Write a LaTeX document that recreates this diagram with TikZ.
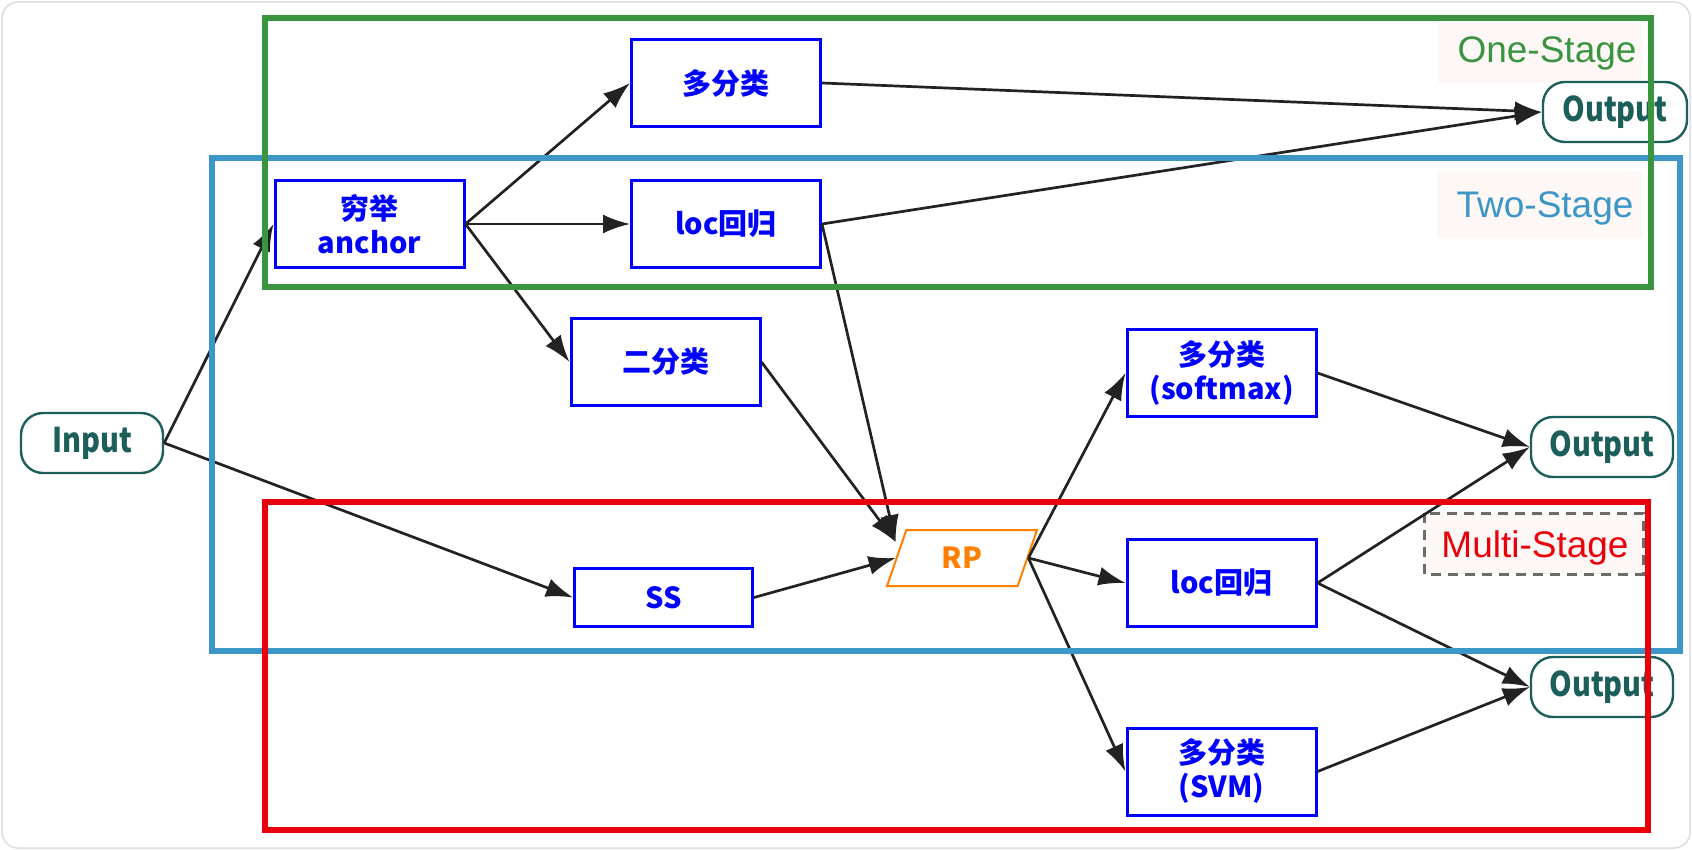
\documentclass[tikz,border=0pt]{standalone}
\usepackage{fontspec}
\setmainfont{Liberation Sans}
\newfontfamily\nodefont{Noto Sans CJK SC}
\newfontfamily\iofont{Noto Sans CJK SC}[FakeStretch=0.85]
\usetikzlibrary{arrows.meta,shapes.geometric}

\definecolor{boxblue}{HTML}{0000FF}
\definecolor{iodark}{HTML}{1B5E5A}
\definecolor{rporange}{HTML}{FF7F00}
\definecolor{grpgreen}{HTML}{3A9440}
\definecolor{grpblue}{HTML}{3C96C8}
\definecolor{grpred}{HTML}{E8000B}
\definecolor{arrowc}{HTML}{222222}
\definecolor{labelbg}{HTML}{FDF7F6}
\definecolor{framegray}{HTML}{DDDDDD}
\definecolor{dashgray}{HTML}{6B6B6B}

\tikzset{
  proc/.style={draw=boxblue, line width=1.5pt, fill=white, minimum width=94.5pt,
    minimum height=43.5pt, inner sep=0pt, align=center, text=boxblue,
    font=\nodefont\bfseries\fontsize{14.5}{17}\selectfont},
  io/.style={draw=iodark, line width=1.2pt, rounded corners=11pt, fill=white,
    minimum width=71pt, minimum height=30pt, inner sep=0pt, text=iodark,
    font=\iofont\bfseries\fontsize{17}{19}\selectfont},
  rpbox/.style={trapezium, trapezium left angle=72, trapezium right angle=108,
    trapezium stretches=true, draw=rporange, line width=1pt, fill=white,
    minimum width=75pt, minimum height=28pt, inner sep=0pt, text=rporange,
    font=\nodefont\bfseries\fontsize{14.5}{17}\selectfont},
  link/.style={draw=arrowc, line width=1.35pt, -{Latex[length=13.5pt,width=9.5pt]}},
  group/.style={line width=3pt},
  stagelabel/.style={anchor=base, inner sep=0pt, font=\fontsize{18.5}{20}\selectfont},
}

\begin{document}
\begin{tikzpicture}[x=0.5pt, y=-0.5pt]
  \useasboundingbox (0,0) rectangle (1692,850);
  % outer frame
  \draw[framegray, line width=0.75pt, rounded corners=8pt] (2,2) rectangle (1690,848);

  % stage label backgrounds
  \fill[labelbg] (1438,23) rectangle (1643,83);
  \fill[labelbg] (1437,171) rectangle (1643,238);
  \draw[dashgray, fill=labelbg, line width=1.5pt, dash pattern=on 5pt off 3.5pt]
    (1424,513) rectangle (1643,574);
  \node[stagelabel, text=grpgreen] (lone) at (1547,63) {One-Stage};
  \node[stagelabel, text=grpblue] (ltwo) at (1545,218) {Two-Stage};
  \node[stagelabel, text=grpred] (lmulti) at (1535,557) {Multi-Stage};

  % nodes
  \node[io] (in) at (92,443) {Input};
  \node[proc] (anchor) at (369.5,224) {穷举\\anchor};
  \node[proc] (mc1) at (726,83) {多分类};
  \node[proc] (loc1) at (726,224) {loc回归};
  \node[proc] (bin) at (665.5,362) {二分类};
  \node[proc, minimum width=89pt, minimum height=29pt] (ss) at (663.5,597.5) {SS};
  \node[rpbox] (rp) at (962,558) {RP};
  \node[proc] (soft) at (1221.5,373) {多分类\\(softmax)};
  \node[proc] (loc2) at (1221.5,583) {loc回归};
  \node[proc] (svm) at (1221.5,771.5) {多分类\\(SVM)};
  \node[io, minimum width=72pt] (out1) at (1615,112) {Output};
  \node[io] (out2) at (1602,447) {Output};
  \node[io] (out3) at (1602,687) {Output};

  % connectors
  \draw[link] (in.east) -- (anchor.west);
  \draw[link] (in.east) -- (ss.west);
  \draw[link] (anchor.east) -- (mc1.west);
  \draw[link] (anchor.east) -- (loc1.west);
  \draw[link] (anchor.east) -- (bin.west);
  \draw[link] (mc1.east) -- (out1.west);
  \draw[link] (loc1.east) -- (out1.west);
  \draw[link] (loc1.east) -- ([yshift=8pt]rp.west);
  \draw[link] (bin.east) -- ([yshift=8pt]rp.west);
  \draw[link] (ss.east) -- (rp.west);
  \draw[link] (rp.east) -- (soft.west);
  \draw[link] (rp.east) -- (loc2.west);
  \draw[link] (rp.east) -- (svm.west);
  \draw[link] (soft.east) -- (out2.west);
  \draw[link] (loc2.east) -- (out2.west);
  \draw[link] (loc2.east) -- (out3.west);
  \draw[link] (svm.east) -- (out3.west);

  % stage groups
  \draw[group, grpblue] (212,158) rectangle (1680,651);
  \draw[group, grpgreen] (265,18) rectangle (1651,287);
  \draw[group, grpred] (265,502) rectangle (1648,830);
\end{tikzpicture}
\end{document}
